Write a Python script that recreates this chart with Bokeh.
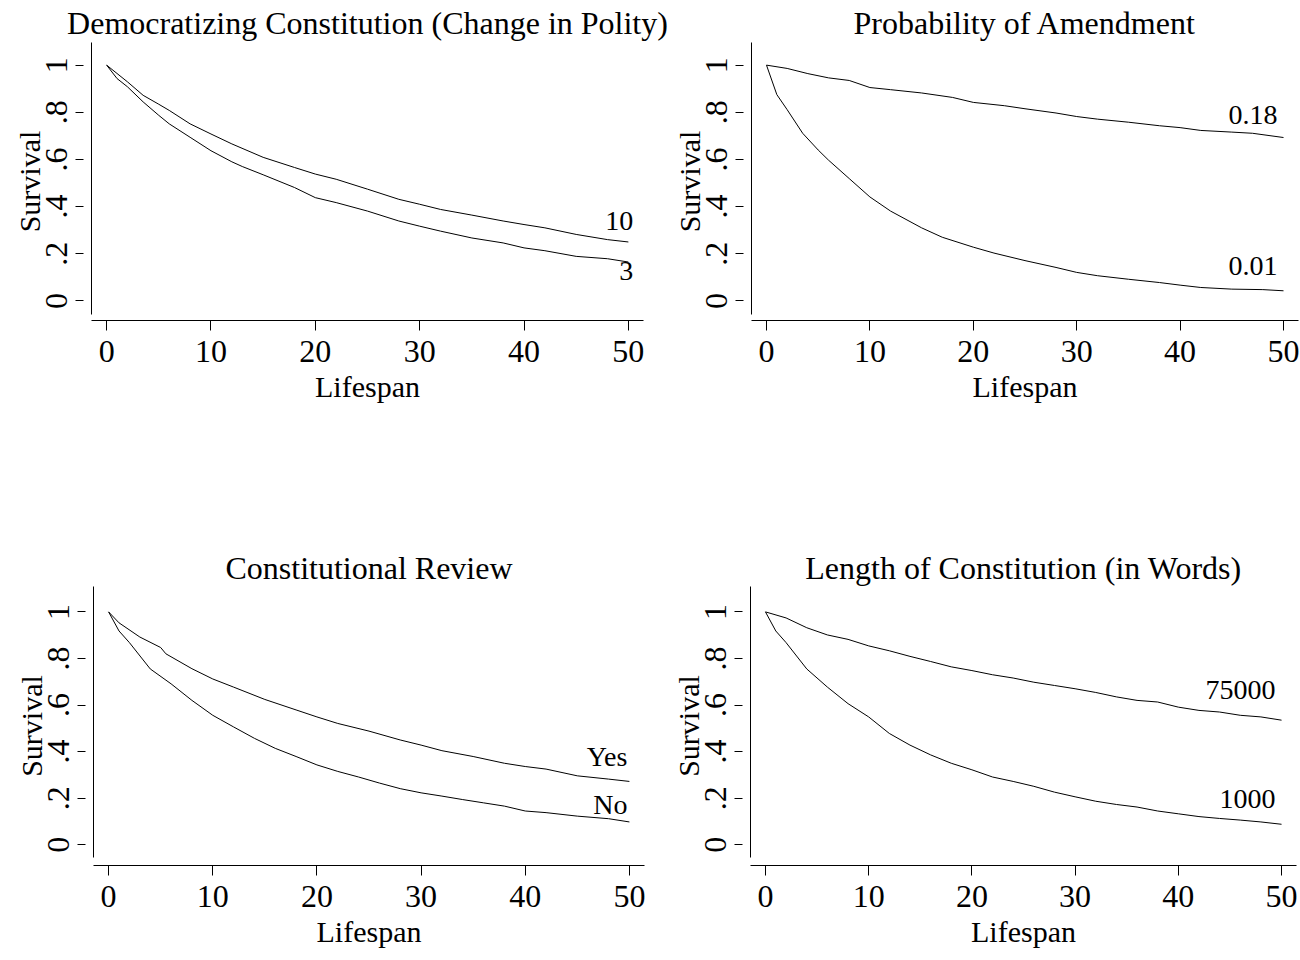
import math
from bokeh.plotting import figure
from bokeh.layouts import column, row
from bokeh.models import Range1d, FixedTicker, CustomJSTickFormatter
from bokeh.embed import file_html
from bokeh.resources import INLINE
from bokeh.core.properties import value

FONT = "Liberation Serif"

# ---------------- data ----------------
titles = ["Democratizing Constitution (Change in Polity)",
          "Probability of Amendment",
          "Constitutional Review",
          "Length of Constitution (in Words)"]

# Panel 1: Democratizing Constitution
p1_hi_label = "10"
p1_hi_x = [0, 2, 3.5, 5, 6, 8, 10, 12, 15, 18, 20, 22, 25, 28, 30, 32, 35, 38, 40, 42, 45, 48, 50]
p1_hi_y = [1, 0.929, 0.872, 0.834, 0.808, 0.751, 0.708, 0.666, 0.609, 0.566, 0.538, 0.516, 0.474,
           0.431, 0.41, 0.388, 0.364, 0.339, 0.324, 0.31, 0.282, 0.26, 0.25]
p1_lo_label = "3"
p1_lo_x = [0, 1, 2, 3.5, 5, 6, 8, 10, 12, 13, 15, 18, 20, 22, 25, 28, 30, 32, 35, 38, 40, 42, 45, 48, 50]
p1_lo_y = [1, 0.943, 0.908, 0.844, 0.787, 0.751, 0.694, 0.637, 0.59, 0.57, 0.535, 0.481, 0.438,
           0.417, 0.381, 0.339, 0.317, 0.296, 0.267, 0.246, 0.225, 0.213, 0.189, 0.179, 0.165]

# Panel 2: Probability of Amendment
p2_hi_label = "0.18"
p2_hi_x = [0, 2, 4, 6, 8, 10, 12, 15, 18, 20, 23, 25, 28, 30, 32, 35, 38, 40, 42, 45, 47, 50]
p2_hi_y = [1, 0.986, 0.964, 0.946, 0.935, 0.905, 0.896, 0.882, 0.863, 0.842, 0.828, 0.815, 0.797,
           0.782, 0.771, 0.758, 0.743, 0.735, 0.723, 0.716, 0.711, 0.693]
p2_lo_label = "0.01"
p2_lo_x = [0, 1, 2, 3.5, 5, 6, 8, 10, 12, 15, 17, 20, 22, 25, 28, 30, 32, 35, 38, 40, 42, 45, 48, 50]
p2_lo_y = [1, 0.875, 0.811, 0.711, 0.64, 0.597, 0.519, 0.441, 0.381, 0.31, 0.27, 0.228, 0.203,
           0.171, 0.142, 0.121, 0.107, 0.092, 0.078, 0.067, 0.057, 0.05, 0.048, 0.043]

# Panel 3: Constitutional Review
p3_hi_label = "Yes"
p3_hi_x = [0, 1, 3, 5, 5.5, 8, 10, 12, 15, 18, 20, 22, 25, 28, 30, 32, 35, 38, 40, 42, 45, 48, 50]
p3_hi_y = [1, 0.953, 0.892, 0.847, 0.82, 0.756, 0.712, 0.677, 0.624, 0.579, 0.549, 0.521, 0.488,
           0.45, 0.428, 0.404, 0.379, 0.35, 0.336, 0.325, 0.296, 0.282, 0.272]
p3_lo_label = "No"
p3_lo_x = [0, 1, 2, 4, 6, 8, 10, 12, 14, 16, 18, 20, 22, 24, 26, 28, 30, 32, 34, 36, 38, 40, 42, 45, 48, 50]
p3_lo_y = [1, 0.918, 0.868, 0.755, 0.691, 0.62, 0.556, 0.506, 0.457, 0.414, 0.379, 0.343, 0.315,
           0.291, 0.265, 0.241, 0.223, 0.209, 0.194, 0.18, 0.166, 0.145, 0.138, 0.123, 0.112, 0.098]

# Panel 4: Length of Constitution
p4_hi_label = "75000"
p4_hi_x = [0, 2, 4, 6, 8, 10, 12, 14, 16, 18, 20, 22, 24, 26, 28, 30, 32, 34, 36, 38, 40, 42, 44, 46, 48, 50]
p4_hi_y = [1, 0.974, 0.932, 0.901, 0.882, 0.854, 0.833, 0.809, 0.787, 0.764, 0.748, 0.73, 0.716,
           0.698, 0.684, 0.67, 0.654, 0.635, 0.62, 0.613, 0.591, 0.577, 0.57, 0.556, 0.549, 0.535]
p4_lo_label = "1000"
p4_lo_x = [0, 1, 2, 4, 6, 8, 10, 12, 14, 16, 18, 20, 22, 24, 26, 28, 30, 32, 34, 36, 38, 40, 42, 44, 46, 48, 50]
p4_lo_y = [1, 0.918, 0.868, 0.755, 0.677, 0.606, 0.549, 0.478, 0.428, 0.386, 0.35, 0.322, 0.291,
           0.272, 0.251, 0.226, 0.206, 0.187, 0.173, 0.162, 0.145, 0.133, 0.121, 0.113, 0.106, 0.098, 0.088]

x_ticks = [0, 10, 20, 30, 40, 50]
y_ticks = [0, 0.2, 0.4, 0.6, 0.8, 1]
x_title = "Lifespan"
y_title = "Survival"

# ---------------- styling / placement ----------------
TITLE_SIZE = "32px"
TICK_SIZE = "32px"
AXIS_SIZE = "30px"
CURVE_LABEL_SIZE = "28px"


def make_panel(title, hx, hy, hlab, lx, ly, llab, hlab_y, llab_y, lab_dx,
               y_lo, y_hi, y_bound_lo, mbl, fw, mbr, mbt, fh, mbb, tstand):
    p = figure(title=title, frame_width=fw, frame_height=fh,
               min_border_left=mbl, min_border_right=mbr,
               min_border_top=mbt, min_border_bottom=mbb,
               x_range=Range1d(-1.45, 51.45), y_range=Range1d(y_lo, y_hi),
               output_backend="svg", toolbar_location=None,
               background_fill_color="white", border_fill_color="white")
    p.outline_line_color = None
    p.grid.visible = False

    p.title.text_font = FONT
    p.title.text_font_size = TITLE_SIZE
    p.title.text_font_style = "normal"
    p.title.text_color = "black"
    p.title.align = "center"
    p.title.standoff = tstand

    xa = p.xaxis[0]
    xa.ticker = FixedTicker(ticks=x_ticks)
    xa.axis_label = x_title
    xa.major_tick_in = 0
    xa.major_tick_out = 10
    xa.major_label_standoff = 10
    xa.axis_label_standoff = 5

    ya = p.yaxis[0]
    ya.ticker = FixedTicker(ticks=y_ticks)
    ya.formatter = CustomJSTickFormatter(code="""
        if (Math.abs(tick) < 1e-9) return "0";
        if (Math.abs(tick - 1) < 1e-9) return "1";
        return tick.toFixed(1).replace(/^0/, "");
    """)
    ya.axis_label = y_title
    ya.major_tick_in = -8
    ya.major_tick_out = 16
    ya.major_label_standoff = 8
    ya.axis_label_standoff = -2
    ya.major_label_orientation = "vertical"
    ya.bounds = (y_bound_lo, y_hi)

    for ax in (xa, ya):
        ax.minor_tick_line_color = None
        ax.axis_line_color = "black"
        ax.axis_line_width = 1
        ax.major_tick_line_color = "black"
        ax.major_tick_line_width = 1
        ax.major_label_text_font = FONT
        ax.major_label_text_font_size = TICK_SIZE
        ax.major_label_text_color = "black"
        ax.major_label_text_font_style = "normal"
        ax.axis_label_text_font = FONT
        ax.axis_label_text_font_size = AXIS_SIZE
        ax.axis_label_text_font_style = "normal"
        ax.axis_label_text_color = "black"

    p.line(hx, hy, line_color="black", line_width=1)
    p.line(lx, ly, line_color="black", line_width=1)

    p.text(x=[hx[-1], lx[-1]], y=[hlab_y, llab_y], text=[hlab, llab],
           text_align="right", text_baseline="middle",
           text_font=value(FONT), text_font_size=CURVE_LABEL_SIZE,
           text_color="black", x_offset=lab_dx)
    return p


TOP = dict(y_lo=-0.083, y_hi=1.096, y_bound_lo=-0.059, mbt=42, fh=278, mbb=226, tstand=4)
BOT = dict(y_lo=-0.089, y_hi=1.109, y_bound_lo=-0.055, mbt=40, fh=279, mbb=94, tstand=1)

p1 = make_panel(titles[0], p1_hi_x, p1_hi_y, p1_hi_label, p1_lo_x, p1_lo_y, p1_lo_label,
                0.34, 0.129, 5, mbl=91, fw=552, mbr=25, **TOP)
p2 = make_panel(titles[1], p2_hi_x, p2_hi_y, p2_hi_label, p2_lo_x, p2_lo_y, p2_lo_label,
                0.79, 0.149, -6, mbl=83, fw=547, mbr=2, **TOP)
p3 = make_panel(titles[2], p3_hi_x, p3_hi_y, p3_hi_label, p3_lo_x, p3_lo_y, p3_lo_label,
                0.379, 0.173, -2, mbl=93, fw=551, mbr=24, **BOT)
p4 = make_panel(titles[3], p4_hi_x, p4_hi_y, p4_hi_label, p4_lo_x, p4_lo_y, p4_lo_label,
                0.666, 0.198, -6, mbl=82, fw=546, mbr=2, **BOT)

layout = column(row(p1, p2), row(p3, p4))

with open("out.html", "w") as f:
    f.write(file_html(layout, INLINE, "Survival curves"))
